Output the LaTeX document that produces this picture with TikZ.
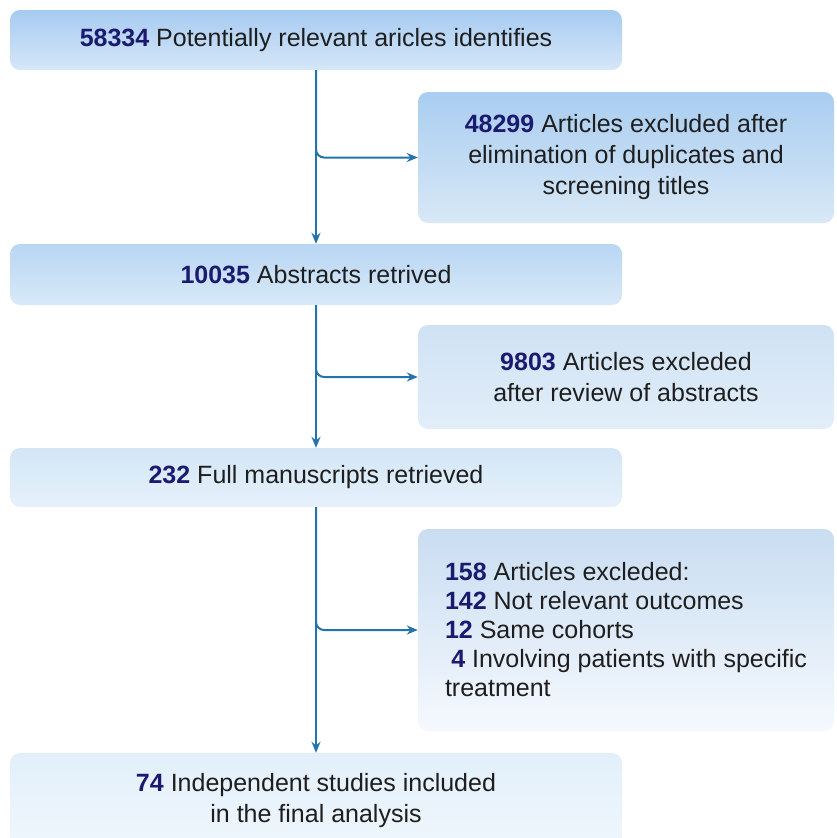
\documentclass[tikz,border=0pt]{standalone}
\usepackage{fontspec}
\setmainfont{Liberation Sans}
\usepackage{tikz}
\usetikzlibrary{arrows.meta}
\definecolor{numblue}{HTML}{1A1A6E}
\definecolor{linkblue}{HTML}{2573AB}
\definecolor{txtgray}{HTML}{1E1E1E}
\newcommand{\cnt}[1]{\textbf{\color{numblue}#1}}
\tikzstyle{box} = [rounded corners=10pt, align=center, inner sep=0pt, text=txtgray, font=\fontsize{25}{31}\selectfont]
\tikzstyle{arrow} = [line width=2pt, draw=linkblue, -{Stealth[length=11pt,width=9pt]}]

\begin{document}
\begin{tikzpicture}[x=1pt,y=-1pt]
\useasboundingbox (0,0) rectangle (836,838);
\clip (0,0) rectangle (836,838);
\node[box, minimum width=612pt, minimum height=60pt, top color={rgb,255:red,166;green,203;blue,241}, bottom color={rgb,255:red,214;green,231;blue,248}] (found) at (316,40) {\cnt{58334} Potentially relevant aricles identifies};
\node[box, minimum width=416pt, minimum height=131pt, top color={rgb,255:red,169;green,205;blue,240}, bottom color={rgb,255:red,216;green,232;blue,246}] (dupl) at (626,157.5) {\cnt{48299} Articles excluded after\\elimination of duplicates and\\screening titles};
\node[box, minimum width=612pt, minimum height=61pt, top color={rgb,255:red,184;green,214;blue,243}, bottom color={rgb,255:red,216;green,233;blue,248}] (abstr) at (316,274.5) {\cnt{10035} Abstracts retrived};
\node[box, minimum width=416pt, minimum height=104pt, top color={rgb,255:red,207;green,226;blue,244}, bottom color={rgb,255:red,226;green,238;blue,249}] (abexcl) at (626,377) {\cnt{9803} Articles excleded\\after review of abstracts};
\node[box, minimum width=612pt, minimum height=59pt, top color={rgb,255:red,211;green,230;blue,246}, bottom color={rgb,255:red,230;green,241;blue,251}] (fulltxt) at (316,477.5) {\cnt{232} Full manuscripts retrieved};
\node[box, align=left, font=\fontsize{25}{29}\selectfont, minimum width=416pt, minimum height=202pt, top color={rgb,255:red,201;green,221;blue,241}, bottom color={rgb,255:red,245;green,249;blue,254}] (ftexcl) at (626,630) {\cnt{158} Articles excleded:\\\cnt{142} Not relevant outcomes\\\cnt{12} Same cohorts\\\hspace*{0.25em}\cnt{4} Involving patients with specific\\treatment};
\node[box, minimum width=612pt, minimum height=96pt, top color={rgb,255:red,226;green,239;blue,250}, bottom color={rgb,255:red,240;green,247;blue,253}] (incl) at (316,801) {\cnt{74} Independent studies included\\in the final analysis};

% main flow
\draw[arrow] (found) -- (abstr);
\draw[arrow] (abstr) -- (fulltxt);
\draw[arrow] (fulltxt) -- (incl);
% exclusions
\draw[arrow, rounded corners=8pt] (found.south) |- (dupl.west);
\draw[arrow, rounded corners=8pt] (abstr.south) |- (abexcl.west);
\draw[arrow, rounded corners=8pt] (fulltxt.south) |- (ftexcl.west);
\end{tikzpicture}
\end{document}
